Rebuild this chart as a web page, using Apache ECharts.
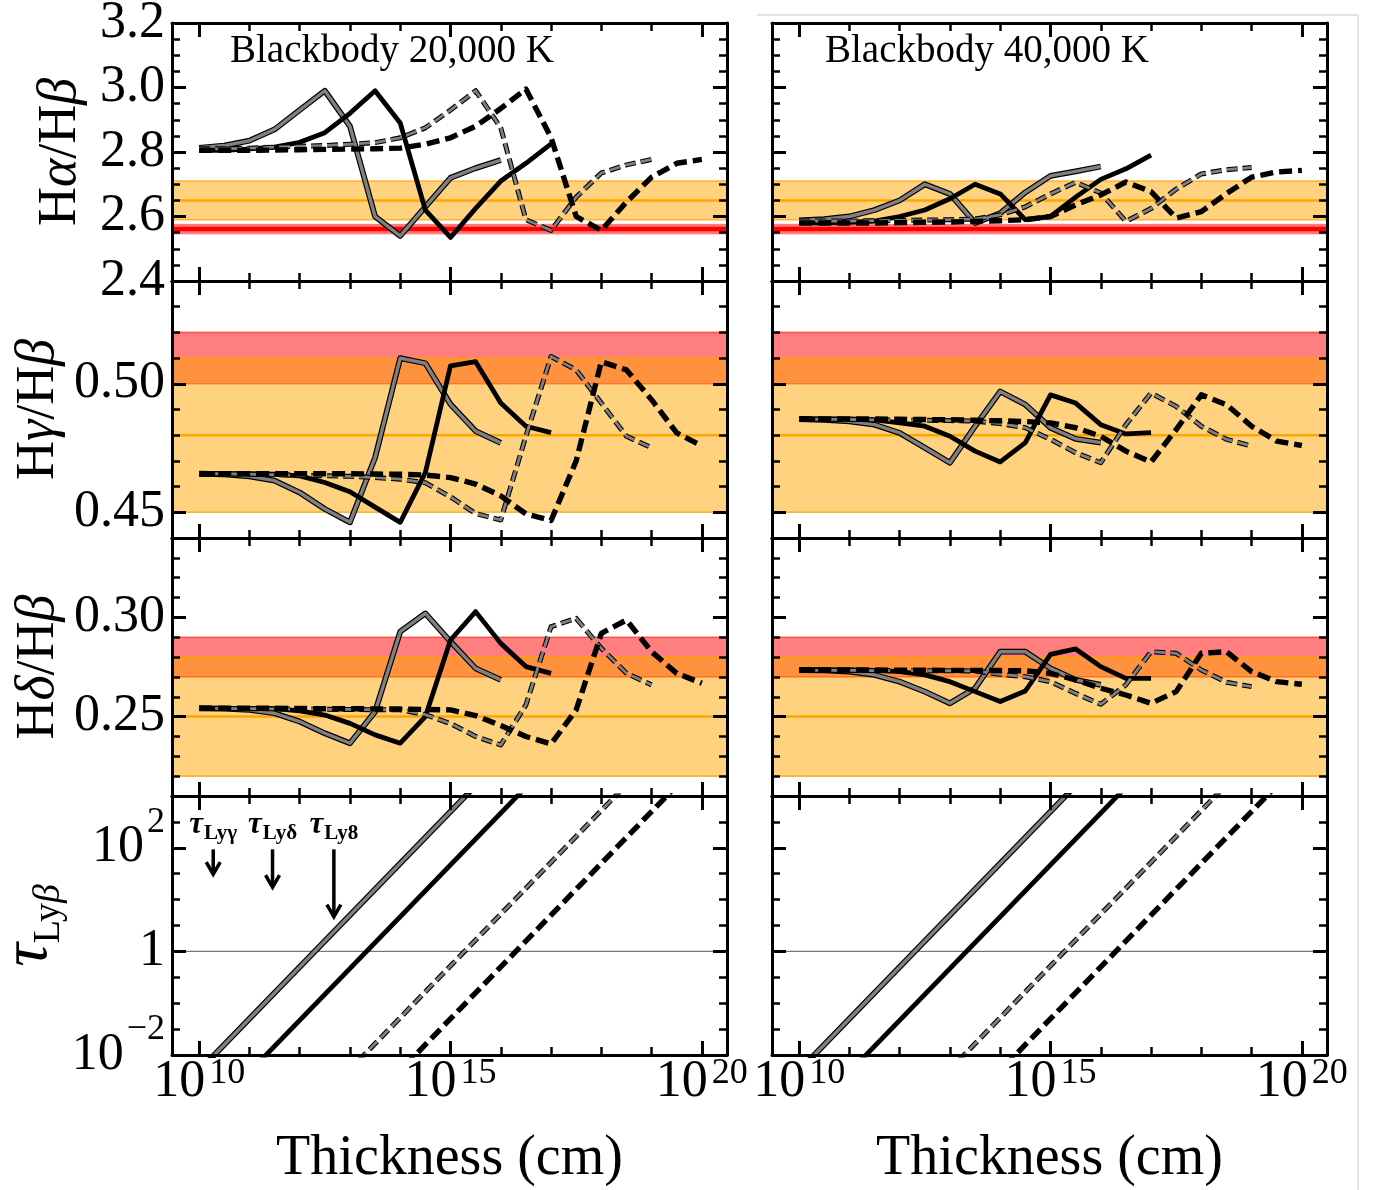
<!DOCTYPE html>
<html>
<head>
<meta charset="utf-8">
<script src="https://cdn.jsdelivr.net/npm/echarts@6/dist/echarts.min.js"></script>
<style>
html, body { margin: 0; padding: 0; background: #fff; }
#chart { width: 1375px; height: 1190px; }
</style>
</head>
<body>
<div id="chart"></div>
<script>
// Model grid: log10 of slab thickness (cm)
const logThickness = [10, 10.5, 11, 11.5, 12, 12.5, 13, 13.5, 14, 14.5, 15, 15.5, 16, 16.5, 17, 17.5, 18, 18.5, 19, 19.5, 20];

// Halpha/Hbeta, 20,000 K
const ha20GraySolid   = [2.813, 2.82, 2.835, 2.87, 2.93, 2.99, 2.88, 2.60, 2.54, 2.63, 2.72, 2.75, 2.775, null, null, null, null, null, null, null, null];
const ha20BlackSolid  = [2.805, 2.805, 2.81, 2.815, 2.83, 2.86, 2.92, 2.99, 2.89, 2.62, 2.535, 2.625, 2.71, 2.765, 2.825, null, null, null, null, null, null];
const ha20GrayDashed  = [2.81, 2.81, 2.812, 2.815, 2.818, 2.82, 2.824, 2.829, 2.844, 2.875, 2.93, 2.99, 2.875, 2.59, 2.557, 2.66, 2.735, 2.76, 2.777, null, null];
const ha20BlackDashed = [2.805, 2.805, 2.805, 2.806, 2.807, 2.808, 2.809, 2.81, 2.812, 2.824, 2.844, 2.88, 2.935, 2.995, 2.845, 2.60, 2.557, 2.645, 2.722, 2.765, 2.777];

// Halpha/Hbeta, 40,000 K
const ha40GraySolid   = [2.588, 2.592, 2.60, 2.62, 2.65, 2.70, 2.67, 2.58, 2.61, 2.675, 2.726, 2.74, 2.755, null, null, null, null, null, null, null, null];
const ha40BlackSolid  = [2.58, 2.58, 2.582, 2.586, 2.60, 2.62, 2.655, 2.70, 2.67, 2.59, 2.60, 2.66, 2.715, 2.748, 2.79, null, null, null, null, null, null];
const ha40GrayDashed  = [2.586, 2.586, 2.586, 2.587, 2.588, 2.589, 2.59, 2.592, 2.605, 2.63, 2.67, 2.706, 2.673, 2.585, 2.625, 2.685, 2.732, 2.745, 2.752, null, null];
const ha40BlackDashed = [2.58, 2.58, 2.58, 2.58, 2.581, 2.582, 2.583, 2.585, 2.587, 2.59, 2.60, 2.636, 2.667, 2.707, 2.677, 2.595, 2.615, 2.671, 2.722, 2.738, 2.743];

// Hgamma/Hbeta, 20,000 K
const hg20GraySolid   = [0.465, 0.4648, 0.464, 0.4623, 0.4577, 0.4513, 0.4461, 0.4713, 0.510, 0.508, 0.492, 0.4816, 0.477, null, null, null, null, null, null, null, null];
const hg20BlackSolid  = [0.465, 0.465, 0.465, 0.4648, 0.4642, 0.4616, 0.458, 0.452, 0.4461, 0.4655, 0.507, 0.5086, 0.4925, 0.4835, 0.481, null, null, null, null, null, null];
const hg20GrayDashed  = [0.465, 0.465, 0.4648, 0.4646, 0.4644, 0.4642, 0.464, 0.4635, 0.4629, 0.4615, 0.456, 0.4495, 0.447, 0.4796, 0.5106, 0.5054, 0.4925, 0.4796, 0.4751, null, null];
const hg20BlackDashed = [0.465, 0.465, 0.465, 0.465, 0.465, 0.465, 0.465, 0.4649, 0.4648, 0.4645, 0.4635, 0.461, 0.4564, 0.4494, 0.4468, 0.47, 0.5086, 0.5054, 0.4938, 0.4809, 0.4758];

// Hgamma/Hbeta, 40,000 K
const hg40GraySolid   = [0.4863, 0.486, 0.4854, 0.4841, 0.4809, 0.4751, 0.4693, 0.4835, 0.497, 0.4919, 0.4829, 0.4786, 0.4771, null, null, null, null, null, null, null, null];
const hg40BlackSolid  = [0.4863, 0.4863, 0.4863, 0.486, 0.4848, 0.4835, 0.4796, 0.4738, 0.4696, 0.4771, 0.4957, 0.4925, 0.4841, 0.4805, 0.481, null, null, null, null, null, null];
const hg40GrayDashed  = [0.4862, 0.4862, 0.4861, 0.486, 0.4859, 0.4858, 0.4857, 0.4855, 0.4845, 0.4829, 0.4784, 0.4732, 0.4693, 0.4841, 0.4964, 0.4912, 0.4835, 0.4784, 0.4758, null, null];
const hg40BlackDashed = [0.4863, 0.4863, 0.4863, 0.4863, 0.4862, 0.4861, 0.486, 0.4858, 0.4856, 0.4853, 0.4848, 0.4829, 0.4796, 0.4738, 0.4696, 0.4822, 0.4957, 0.4919, 0.4835, 0.4777, 0.476];

// Hdelta/Hbeta, 20,000 K
const hd20GraySolid   = [0.2542, 0.254, 0.2534, 0.2517, 0.2475, 0.2416, 0.2366, 0.2525, 0.2928, 0.302, 0.2878, 0.2743, 0.2685, null, null, null, null, null, null, null, null];
const hd20BlackSolid  = [0.2542, 0.2542, 0.2542, 0.254, 0.2529, 0.2508, 0.2466, 0.2408, 0.2366, 0.25, 0.2886, 0.3029, 0.2869, 0.2752, 0.2718, null, null, null, null, null, null];
const hd20GrayDashed  = [0.2542, 0.2541, 0.254, 0.2539, 0.2538, 0.2537, 0.2536, 0.2535, 0.2534, 0.251, 0.2465, 0.24, 0.2357, 0.2559, 0.2953, 0.2995, 0.2844, 0.2718, 0.266, null, null];
const hd20BlackDashed = [0.2542, 0.2542, 0.2542, 0.2542, 0.2541, 0.254, 0.254, 0.2539, 0.2538, 0.2536, 0.2534, 0.2505, 0.2455, 0.24, 0.2362, 0.2534, 0.2919, 0.2987, 0.2827, 0.2718, 0.2668];

// Hdelta/Hbeta, 40,000 K
const hd40GraySolid   = [0.2735, 0.2733, 0.2727, 0.271, 0.2676, 0.2626, 0.2567, 0.2643, 0.2827, 0.2827, 0.2743, 0.2685, 0.266, null, null, null, null, null, null, null, null];
const hd40BlackSolid  = [0.2735, 0.2735, 0.2735, 0.2733, 0.2727, 0.271, 0.2676, 0.2626, 0.2576, 0.2629, 0.2814, 0.2841, 0.2752, 0.2693, 0.2693, null, null, null, null, null, null];
const hd40GrayDashed  = [0.2733, 0.2733, 0.2733, 0.2732, 0.2732, 0.2731, 0.2731, 0.273, 0.2713, 0.2701, 0.2676, 0.2617, 0.2562, 0.266, 0.2827, 0.2819, 0.2735, 0.2673, 0.2651, null, null];
const hd40BlackDashed = [0.2735, 0.2735, 0.2735, 0.2735, 0.2734, 0.2734, 0.2733, 0.2733, 0.2732, 0.2731, 0.2718, 0.2685, 0.2643, 0.2609, 0.2567, 0.2626, 0.2819, 0.2827, 0.2727, 0.2676, 0.2663];

// Ly-beta optical depth: [log10 thickness, log10 tau] end points of each straight line
const tauGraySolid   = [[9.3, -3], [16.3, 4]];
const tauBlackSolid  = [[10.33, -3], [17.33, 4]];
const tauGrayDashed  = [[12.28, -3], [19.28, 4]];
const tauBlackDashed = [[13.3, -3], [20.3, 4]];
const tauUnity = 0; // log10(1)

// Thickness where higher Lyman lines turn optically thick (log10 cm), arrow tail/tip in log10 tau
const lyNames = ['γ', 'δ', '8'];
const lyThickness = [10.28, 11.46, 12.68];
const lyArrowTail = [1.97, 1.97, 1.97];
const lyArrowTip = [1.49, 1.24, 0.67];
const lyLabelLevel = 2.17;

// Observed ranges (orange: low, mid, high) and Case B values (red)
const haOrange = [2.59, 2.65, 2.71];
const haRed = [2.547, 2.561, 2.575];
const hgOrange = [0.45, 0.48, 0.51];
const hgRed = [0.50, 0.52];
const hdOrange = [0.22, 0.25, 0.28];
const hdRed = [0.27, 0.29];

// Axis ranges and tick values
const X_MIN = 9.46, X_MAX = 20.5;
const xMajorTicks = [10, 15, 20];
const xMinorTicks = [11, 12, 13, 14, 16, 17, 18, 19];
const yRanges = [[2.4, 3.2], [0.44, 0.54], [0.21, 0.34], [-2, 3]];
const yMajorTicks = [[2.4, 2.6, 2.8, 3.0, 3.2], [0.45, 0.50], [0.25, 0.30], [-2, 0, 2]];
const yMinorStep = [0.05, 0.01, 0.01, 0.5];
const panelTitles = ['Blackbody 20,000 K', 'Blackbody 40,000 K'];

const FONT = "'Liberation Serif', 'Times New Roman', serif";
const colLeft = [172, 772];
const colWidth = 555;
const rowTop = [23, 281, 538, 796];
const rowHeight = [258, 257, 258, 259];

function minorList(r) {
  const [lo, hi] = yRanges[r];
  const out = [];
  for (let k = 0; ; k++) {
    const v = +(lo + k * yMinorStep[r]).toFixed(4);
    if (v > hi + 1e-9) break;
    if (!yMajorTicks[r].some(m => Math.abs(m - v) < 1e-9)) out.push(v);
  }
  return out;
}

const tickRich = {
  b: { fontFamily: FONT, fontSize: 52, lineHeight: 52, color: '#000', padding: [18, 0, 0, 0], verticalAlign: 'bottom' },
  s: { fontFamily: FONT, fontSize: 36, lineHeight: 36, color: '#000', padding: [0, 0, 0, 4], verticalAlign: 'top' },
  n: { fontFamily: FONT, fontSize: 52, lineHeight: 52, color: '#000' }
};
// vertical tick labels: exponent token is padded below so it sits above the centred base
const tickRichY = {
  b: { fontFamily: FONT, fontSize: 52, lineHeight: 52, color: '#000' },
  s: { fontFamily: FONT, fontSize: 36, lineHeight: 36, color: '#000', padding: [0, 0, 50, 3] },
  n: { fontFamily: FONT, fontSize: 52, lineHeight: 52, color: '#000' }
};

const yFormatters = [
  v => '{n|' + v.toFixed(1) + '}',
  v => '{n|' + v.toFixed(2) + '}',
  v => '{n|' + v.toFixed(2) + '}',
  v => v === 0 ? '{n|1}' : '{b|10}{s|' + (v < 0 ? '−' : '') + Math.abs(v) + '}'
];

const nameRich = {
  r: { fontFamily: FONT, fontSize: 54, color: '#000' },
  i: { fontFamily: FONT, fontSize: 54, fontStyle: 'italic', color: '#000' },
  t: { fontFamily: FONT, fontSize: 66, fontStyle: 'italic', color: '#000', lineHeight: 66, verticalAlign: 'top' },
  sr: { fontFamily: FONT, fontSize: 38, color: '#000', lineHeight: 38, padding: [34, 0, 0, 0], verticalAlign: 'top' },
  si: { fontFamily: FONT, fontSize: 38, fontStyle: 'italic', color: '#000', lineHeight: 38, padding: [34, 0, 0, 0], verticalAlign: 'top' }
};
const yNames = [
  '{r|H}{i|α}{r|/H}{i|β}',
  '{r|H}{i|γ}{r|/H}{i|β}',
  '{r|H}{i|δ}{r|/H}{i|β}',
  '{t|τ}{sr|Ly}{si|β}'
];
const yNameGaps = [84, 106, 106, 104];

const grids = [], xAxes = [], yAxes = [], series = [];
const lineBlack = { color: '#000', width: 3 };

for (let r = 0; r < 4; r++) {
  for (let c = 0; c < 2; c++) {
    const g = r * 2 + c;
    grids.push({ left: colLeft[c], top: rowTop[r], width: colWidth, height: rowHeight[r], show: false, containLabel: false, outerBoundsMode: 'none' });

    const xBase = { type: 'value', gridIndex: g, min: X_MIN, max: X_MAX, z: 10, splitLine: { show: false }, axisPointer: { show: false } };
    const showXLabel = r === 3;
    xAxes.push(
      Object.assign({}, xBase, {
        position: 'bottom',
        axisLine: { show: true, onZero: false, lineStyle: lineBlack },
        axisTick: { show: true, inside: true, length: 14, lineStyle: { color: '#000', width: 3 }, customValues: xMajorTicks },
        axisLabel: { show: showXLabel, customValues: xMajorTicks, margin: 1, formatter: v => '{b|10}{s|' + v + '}', rich: tickRich },
        name: showXLabel ? 'Thickness (cm)' : '',
        nameLocation: 'middle', nameGap: 76,
        nameTextStyle: { fontFamily: FONT, fontSize: 56, color: '#000' }
      }),
      Object.assign({}, xBase, {
        position: 'bottom', axisLine: { show: false, onZero: false },
        axisTick: { show: true, inside: true, length: 8, lineStyle: { color: '#000', width: 2.5 }, customValues: xMinorTicks },
        axisLabel: { show: false }
      }),
      Object.assign({}, xBase, {
        position: 'top', axisLine: { show: true, onZero: false, lineStyle: lineBlack },
        axisTick: { show: true, inside: true, length: 14, lineStyle: { color: '#000', width: 3 }, customValues: xMajorTicks },
        axisLabel: { show: false }
      }),
      Object.assign({}, xBase, {
        position: 'top', axisLine: { show: false, onZero: false },
        axisTick: { show: true, inside: true, length: 8, lineStyle: { color: '#000', width: 2.5 }, customValues: xMinorTicks },
        axisLabel: { show: false }
      })
    );

    const yBase = { type: 'value', gridIndex: g, min: yRanges[r][0], max: yRanges[r][1], z: 10, splitLine: { show: false }, axisPointer: { show: false } };
    const minors = minorList(r);
    yAxes.push(
      Object.assign({}, yBase, {
        position: 'left',
        axisLine: { show: true, onZero: false, lineStyle: lineBlack },
        axisTick: { show: true, inside: true, length: 14, lineStyle: { color: '#000', width: 3 }, customValues: yMajorTicks[r] },
        axisLabel: { show: c === 0, customValues: yMajorTicks[r], margin: 7, formatter: yFormatters[r], rich: tickRichY },
        name: c === 0 ? yNames[r] : '',
        nameLocation: 'middle', nameGap: yNameGaps[r], nameRotate: 90,
        nameTextStyle: { fontFamily: FONT, fontSize: 54, color: '#000', rich: nameRich }
      }),
      Object.assign({}, yBase, {
        position: 'left', axisLine: { show: false, onZero: false },
        axisTick: { show: true, inside: true, length: 8, lineStyle: { color: '#000', width: 2.5 }, customValues: minors },
        axisLabel: { show: false }
      }),
      Object.assign({}, yBase, {
        position: 'right', axisLine: { show: true, onZero: false, lineStyle: lineBlack },
        axisTick: { show: true, inside: true, length: 14, lineStyle: { color: '#000', width: 3 }, customValues: yMajorTicks[r] },
        axisLabel: { show: false }
      }),
      Object.assign({}, yBase, {
        position: 'right', axisLine: { show: false, onZero: false },
        axisTick: { show: true, inside: true, length: 8, lineStyle: { color: '#000', width: 2.5 }, customValues: minors },
        axisLabel: { show: false }
      })
    );
  }
}

// Horizontal band drawn across the full panel width
function bandSeries(g, lo, hi, fill, edge, mid, midColor, midWidth) {
  return {
    type: 'custom', xAxisIndex: g * 4, yAxisIndex: g * 4, z: 1, silent: true, animation: false,
    data: [[lo, hi, mid == null ? NaN : mid]],
    renderItem: function (params, api) {
      const cs = params.coordSys;
      const yHi = api.coord([X_MIN, api.value(1)])[1];
      const yLo = api.coord([X_MIN, api.value(0)])[1];
      const children = [
        { type: 'rect', shape: { x: cs.x, y: yHi, width: cs.width, height: yLo - yHi }, style: { fill: fill } },
        { type: 'line', shape: { x1: cs.x, y1: yHi, x2: cs.x + cs.width, y2: yHi }, style: { stroke: edge, lineWidth: 1.6 } },
        { type: 'line', shape: { x1: cs.x, y1: yLo, x2: cs.x + cs.width, y2: yLo }, style: { stroke: edge, lineWidth: 1.6 } }
      ];
      const m = api.value(2);
      if (!isNaN(m)) {
        const yM = api.coord([X_MIN, m])[1];
        children.push({ type: 'line', shape: { x1: cs.x, y1: yM, x2: cs.x + cs.width, y2: yM }, style: { stroke: midColor, lineWidth: midWidth } });
      }
      return { type: 'group', children: children };
    }
  };
}

const ORANGE_FILL = 'rgba(255,165,0,0.5)', ORANGE_EDGE = 'rgba(255,160,0,0.75)';
const RED_FILL = 'rgba(255,0,0,0.5)', RED_EDGE = 'rgba(255,0,0,0.55)';

function pairs(values) {
  const out = [];
  values.forEach((v, i) => { if (v != null) out.push([logThickness[i], v]); });
  return out;
}

function curve(g, data, gray, dashed, z) {
  const list = [];
  const common = { type: 'line', xAxisIndex: g * 4, yAxisIndex: g * 4, showSymbol: false, symbol: 'none', silent: true, animation: false, clip: true, data: data };
  if (gray) {
    list.push(Object.assign({}, common, { z: z, lineStyle: { color: '#000', width: dashed ? 5 : 5.8, type: dashed ? [11, 5] : 'solid', cap: 'butt', join: 'round' } }));
    list.push(Object.assign({}, common, { z: z + 0.1, lineStyle: { color: '#808080', width: dashed ? 2.8 : 3.4, type: dashed ? [11, 5] : 'solid', cap: 'butt', join: 'round' } }));
  } else {
    list.push(Object.assign({}, common, { z: z, lineStyle: { color: '#000', width: dashed ? 5.4 : 4.8, type: dashed ? [13, 6] : 'solid', cap: 'butt', join: 'round' } }));
  }
  return list;
}

const ratioPanels = [
  { r: 0, c: 0, sets: [ha20GraySolid, ha20BlackSolid, ha20GrayDashed, ha20BlackDashed], orange: haOrange, red: haRed },
  { r: 0, c: 1, sets: [ha40GraySolid, ha40BlackSolid, ha40GrayDashed, ha40BlackDashed], orange: haOrange, red: haRed },
  { r: 1, c: 0, sets: [hg20GraySolid, hg20BlackSolid, hg20GrayDashed, hg20BlackDashed], orange: hgOrange, red: hgRed },
  { r: 1, c: 1, sets: [hg40GraySolid, hg40BlackSolid, hg40GrayDashed, hg40BlackDashed], orange: hgOrange, red: hgRed },
  { r: 2, c: 0, sets: [hd20GraySolid, hd20BlackSolid, hd20GrayDashed, hd20BlackDashed], orange: hdOrange, red: hdRed },
  { r: 2, c: 1, sets: [hd40GraySolid, hd40BlackSolid, hd40GrayDashed, hd40BlackDashed], orange: hdOrange, red: hdRed }
];

ratioPanels.forEach(p => {
  const g = p.r * 2 + p.c;
  const red = p.red;
  if (red.length === 3) {
    series.push(bandSeries(g, red[0], red[2], RED_FILL, 'rgba(255,0,0,0.35)', red[1], '#ff0000', 4.5));
  } else {
    series.push(bandSeries(g, red[0], red[1], RED_FILL, RED_EDGE));
  }
  series.push(bandSeries(g, p.orange[0], p.orange[2], ORANGE_FILL, ORANGE_EDGE, p.orange[1], '#ffa500', 2.5));
  series.push(...curve(g, pairs(p.sets[0]), true, false, 3));
  series.push(...curve(g, pairs(p.sets[1]), false, false, 4));
  series.push(...curve(g, pairs(p.sets[2]), true, true, 5));
  series.push(...curve(g, pairs(p.sets[3]), false, true, 6));
});

// Optical depth panels
[6, 7].forEach(g => {
  series.push({
    type: 'line', xAxisIndex: g * 4, yAxisIndex: g * 4, showSymbol: false, symbol: 'none', silent: true, animation: false, z: 2,
    data: [[X_MIN, tauUnity], [X_MAX, tauUnity]],
    lineStyle: { color: '#777', width: 1.3 }
  });
  series.push(...curve(g, tauGraySolid, true, false, 3));
  series.push(...curve(g, tauBlackSolid, false, false, 4));
  series.push(...curve(g, tauGrayDashed, true, true, 5));
  series.push(...curve(g, tauBlackDashed, false, true, 6));
});

// Arrows marking the Lyman gamma, delta and 8 thresholds
series.push({
  type: 'custom', xAxisIndex: 24, yAxisIndex: 24, z: 8, silent: true, animation: false, clip: false,
  data: lyThickness.map((x, i) => [x, lyArrowTail[i], lyArrowTip[i], i]),
  renderItem: function (params, api) {
    const x = api.value(0);
    const p0 = api.coord([x, api.value(1)]);
    const p1 = api.coord([x, api.value(2)]);
    const pl = api.coord([x, lyLabelLevel]);
    const name = lyNames[api.value(3)];
    return {
      type: 'group',
      children: [
        { type: 'line', shape: { x1: p0[0], y1: p0[1], x2: p1[0], y2: p1[1] - 1 }, style: { stroke: '#000', lineWidth: 3.5 } },
        { type: 'polyline', shape: { points: [[p1[0] - 7, p1[1] - 12], [p1[0], p1[1]], [p1[0] + 7, p1[1] - 12]] }, style: { stroke: '#000', lineWidth: 3.5, fill: null, lineJoin: 'miter' } },
        {
          type: 'text', x: pl[0], y: pl[1],
          style: {
            text: '{t|τ}{s|Ly' + name + '}', align: 'center', verticalAlign: 'bottom',
            rich: {
              t: { fontFamily: FONT, fontSize: 31, fontWeight: 'bold', fontStyle: 'italic', lineHeight: 30, verticalAlign: 'top', fill: '#000' },
              s: { fontFamily: FONT, fontSize: 21, fontWeight: 'bold', lineHeight: 20, padding: [14, 0, 0, 1], verticalAlign: 'top', fill: '#000' }
            }
          }
        }
      ]
    };
  }
});

const chart = echarts.init(document.getElementById('chart'), null, { renderer: 'canvas' });
chart.setOption({
  backgroundColor: '#fff',
  animation: false,
  grid: grids,
  xAxis: xAxes,
  yAxis: yAxes,
  series: series,
  graphic: [
    { type: 'polyline', silent: true, z: 0, shape: { points: [[757, 15], [1358, 15], [1358, 1190]] }, style: { stroke: '#dcdcdc', lineWidth: 1.5, fill: null } },
    { type: 'text', x: 230, y: 52, z: 20, silent: true, style: { text: panelTitles[0], fontFamily: FONT, fontSize: 39, fill: '#000', verticalAlign: 'middle' } },
    { type: 'text', x: 825, y: 52, z: 20, silent: true, style: { text: panelTitles[1], fontFamily: FONT, fontSize: 39, fill: '#000', verticalAlign: 'middle' } }
  ]
});
</script>
</body>
</html>
